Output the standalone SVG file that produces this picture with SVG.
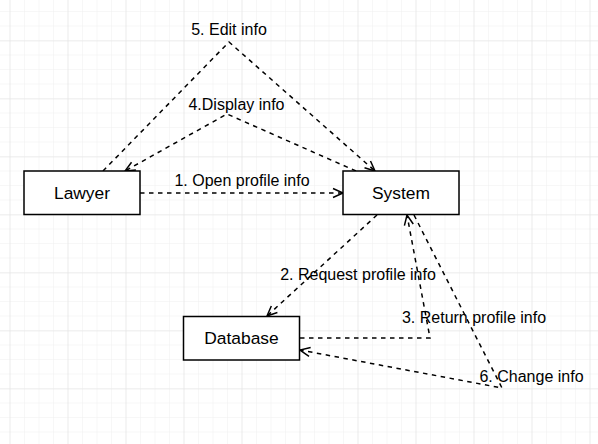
<svg xmlns="http://www.w3.org/2000/svg" width="598" height="444" viewBox="0 0 598 444">
  <style>
    .node rect { fill: #ffffff; stroke: #000000; stroke-width: 1.5; }
    .node text { font-family: "Liberation Sans", Arial, sans-serif; font-size: 17.4px; fill: #000000; text-anchor: middle; }
    .edge { fill: none; stroke: #000000; stroke-width: 1.5; stroke-dasharray: 4.5 4.5; marker-end: url(#open); }
    .edge.noarrow { marker-end: none; }
    .lbl { font-family: "Liberation Sans", Arial, sans-serif; font-size: 16px; fill: #000000; text-anchor: middle; }
  </style>
  <defs>
    <pattern id="minor" x="9.5" y="11" width="14.5" height="14.5" patternUnits="userSpaceOnUse">
      <path d="M0 0 H14.5 M0 0 V14.5" fill="none" stroke="#f0f0f0" stroke-width="1"/>
    </pattern>
    <pattern id="major" x="9.5" y="40.5" width="58" height="58" patternUnits="userSpaceOnUse">
      <path d="M0 0 H58 M0 0 V58" fill="none" stroke="#e2e2e2" stroke-width="1"/>
    </pattern>
    <marker id="open" markerUnits="userSpaceOnUse" markerWidth="14" markerHeight="12" viewBox="-12 -6 14 12" refX="0" refY="0" orient="auto">
      <path d="M-10 -4.5 L0 0 L-10 4.5" fill="none" stroke="#000000" stroke-width="1.5"/>
    </marker>
  </defs>
  <rect width="598" height="444" fill="#ffffff"/>
  <rect width="598" height="444" fill="url(#minor)"/>
  <rect width="598" height="444" fill="url(#major)"/>

  <g id="connectors">
    <path class="edge" d="M140 193 L343 193"/>
    <path class="edge" d="M377 215 L267 316"/>
    <path class="edge" d="M300 338 L430 338 L407 215"/>
    <path class="edge" d="M356 171 L227 114 L125 171"/>
    <path class="edge" d="M103 171 L229 42 L375 171"/>
    <path class="edge" d="M414 215 L502 388 L300 350"/>
    <text class="lbl" x="242" y="185.5">1. Open profile info</text>
    <text class="lbl" x="358" y="279.5">2. Request profile info</text>
    <text class="lbl" x="474" y="323">3. Return profile info</text>
    <text class="lbl" x="236.5" y="110">4.Display info</text>
    <text class="lbl" x="229" y="35">5. Edit info</text>
    <text class="lbl" x="531.5" y="381.5">6. Change info</text>
  </g>

  <g id="lawyer" class="node">
    <rect x="24" y="171" width="116" height="43.5"/>
    <text x="82" y="199">Lawyer</text>
  </g>
  <g id="system" class="node">
    <rect x="343" y="171" width="116" height="43.5"/>
    <text x="401" y="199">System</text>
  </g>
  <g id="database" class="node">
    <rect x="183.5" y="316.5" width="116" height="43.5"/>
    <text x="241.5" y="344">Database</text>
  </g>
</svg>
